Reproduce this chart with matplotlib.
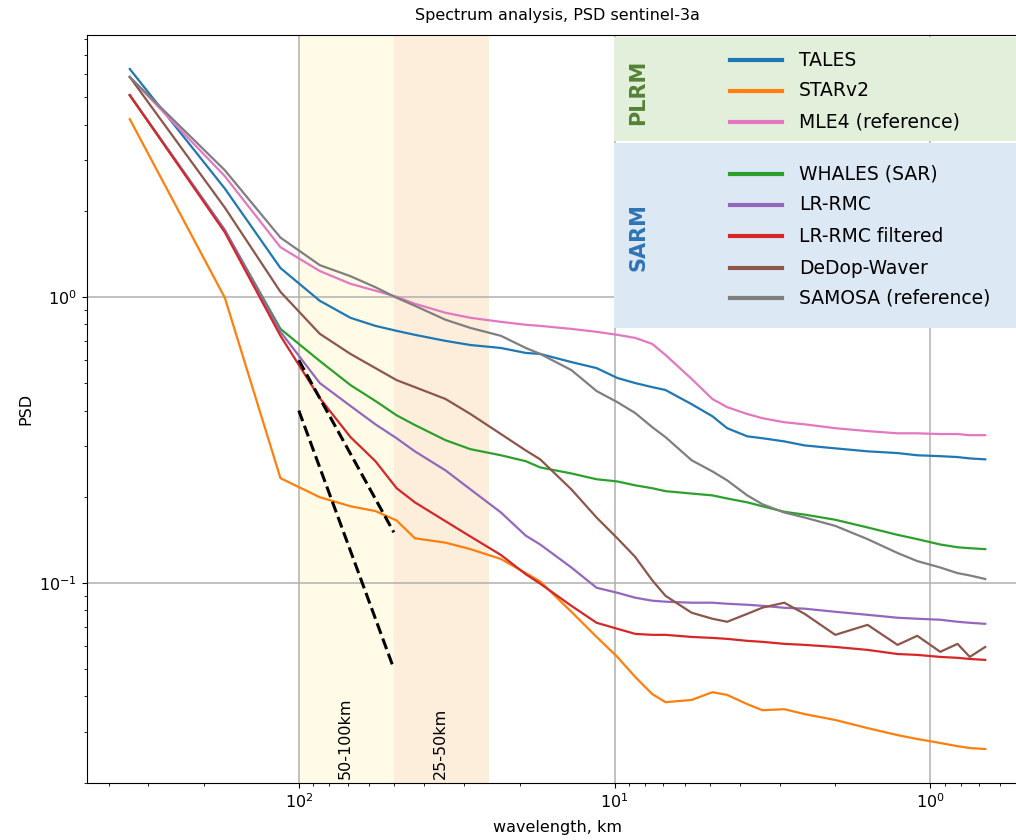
"""
Spectrum analysis (PSD) for sentinel-3a retrackers, redrawn from the figure.
"""

import matplotlib
matplotlib.use("Agg")
import matplotlib.pyplot as plt
from matplotlib.lines import Line2D
from matplotlib.patches import Rectangle

# wavelength (km) of the sampled points
wavelength = [343, 171.5, 114.3, 85.8, 68.6, 57.2, 49.0, 42.9, 34.3, 28.6,
              22.9, 19.1, 17.2, 13.7, 11.4, 9.8, 8.6, 7.6, 6.9, 5.7,
              4.9, 4.4, 3.8, 3.4, 2.9, 2.5, 2.0, 1.58, 1.27, 1.10,
              0.93, 0.82, 0.75, 0.67]

# PSD per retracker
tales = [6.26, 2.39, 1.26, 0.968, 0.844, 0.791, 0.760, 0.736, 0.701, 0.678,
         0.662, 0.636, 0.631, 0.591, 0.563, 0.520, 0.499, 0.483, 0.472, 0.421,
         0.382, 0.347, 0.325, 0.320, 0.312, 0.302, 0.295, 0.288, 0.284, 0.279,
         0.277, 0.275, 0.272, 0.270]
starv2 = [4.18, 0.992, 0.232, 0.199, 0.185, 0.178, 0.165, 0.143, 0.138, 0.131,
          0.121, 0.108, 0.101, 0.0791, 0.0646, 0.0550, 0.0468, 0.0408, 0.0382, 0.0389,
          0.0414, 0.0405, 0.0376, 0.0358, 0.0361, 0.0347, 0.0331, 0.0310, 0.0293, 0.0284,
          0.0275, 0.0268, 0.0264, 0.0262]
mle4 = [5.87, 2.64, 1.49, 1.23, 1.11, 1.05, 1.00, 0.945, 0.879, 0.844,
        0.817, 0.798, 0.791, 0.772, 0.754, 0.736, 0.718, 0.684, 0.626, 0.516,
        0.439, 0.411, 0.389, 0.376, 0.364, 0.358, 0.347, 0.339, 0.333, 0.333,
        0.331, 0.331, 0.328, 0.328]
whales = [5.07, 1.71, 0.772, 0.596, 0.491, 0.432, 0.385, 0.356, 0.315, 0.293,
          0.279, 0.266, 0.253, 0.241, 0.230, 0.226, 0.219, 0.214, 0.209, 0.205,
          0.202, 0.197, 0.191, 0.185, 0.177, 0.173, 0.166, 0.156, 0.147, 0.142,
          0.136, 0.133, 0.132, 0.131]
lr_rmc = [5.07, 1.71, 0.754, 0.499, 0.415, 0.358, 0.320, 0.288, 0.247, 0.212,
          0.176, 0.146, 0.136, 0.113, 0.0960, 0.0922, 0.0886, 0.0865, 0.0858, 0.0851,
          0.0851, 0.0844, 0.0837, 0.0830, 0.0817, 0.0811, 0.0791, 0.0772, 0.0754, 0.0748,
          0.0742, 0.0730, 0.0724, 0.0718]
lr_rmc_filt = [5.07, 1.68, 0.730, 0.442, 0.323, 0.266, 0.214, 0.191, 0.164, 0.145,
               0.125, 0.107, 0.0992, 0.0830, 0.0724, 0.0690, 0.0662, 0.0657, 0.0657, 0.0646,
               0.0641, 0.0636, 0.0626, 0.0621, 0.0611, 0.0606, 0.0596, 0.0582, 0.0563, 0.0559,
               0.0550, 0.0546, 0.0541, 0.0537]
dedop = [5.87, 2.05, 1.04, 0.742, 0.631, 0.563, 0.511, 0.483, 0.439, 0.389,
         0.331, 0.290, 0.270, 0.212, 0.169, 0.143, 0.123, 0.102, 0.090, 0.0785,
         0.0748, 0.0730, 0.0778, 0.0818, 0.0851, 0.0778, 0.0657, 0.0712, 0.0606, 0.0652,
         0.0573, 0.0611, 0.0550, 0.0596]
samosa = [5.87, 2.77, 1.61, 1.29, 1.18, 1.08, 0.992, 0.930, 0.831, 0.778,
          0.730, 0.662, 0.631, 0.554, 0.468, 0.428, 0.392, 0.350, 0.323, 0.268,
          0.245, 0.228, 0.202, 0.188, 0.176, 0.169, 0.158, 0.142, 0.127, 0.119,
          0.113, 0.108, 0.106, 0.103]

# reference slopes (k^-3 and k^-2) between 100 and 50 km
slope_x = [100, 50]
slope_k3 = [0.4, 0.05]
slope_k2 = [0.6, 0.15]

plrm_labels = ["TALES", "STARv2", "MLE4 (reference)"]
plrm_colors = ["#1f77b4", "#ff7f0e", "#e377c2"]
sarm_labels = ["WHALES (SAR)", "LR-RMC", "LR-RMC filtered", "DeDop-Waver", "SAMOSA (reference)"]
sarm_colors = ["#2ca02c", "#9467bd", "#d62728", "#8c564b", "#7f7f7f"]

W, H = 1016, 840


def fx(px):
    return px / W


def fy(py):
    return 1 - py / H


fig = plt.figure(figsize=(W / 100, H / 100), dpi=100)
ax = fig.add_axes([fx(87), fy(783), fx(1028) - fx(87), fy(35) - fy(783)])

ax.axvspan(100, 50, color="#fffbe6", zorder=0, lw=0)
ax.axvspan(50, 25, color="#fdeedc", zorder=0, lw=0)

series = [tales, starv2, mle4, whales, lr_rmc, lr_rmc_filt, dedop, samosa]
colors = plrm_colors + sarm_colors
for values, color in zip(series, colors):
    ax.plot(wavelength, values, color=color, lw=1.6, zorder=3)

ax.plot(slope_x, slope_k3, "k--", lw=2.2, zorder=4)
ax.plot(slope_x, slope_k2, "k--", lw=2.2, zorder=4)

ax.set_xscale("log")
ax.set_yscale("log")
ax.invert_xaxis()
ax.grid(True, which="major", color="#b0b0b0", lw=1.1, zorder=1)
ax.set_axisbelow(True)

ax.text(75, 0.0205, "50-100km", rotation=90, va="bottom", fontsize=11.5)
ax.text(37.5, 0.0205, "25-50km", rotation=90, va="bottom", fontsize=11.5)

ax.set_title("Spectrum analysis, PSD sentinel-3a", fontsize=11.5, pad=11)
ax.set_xlabel("wavelength, km", fontsize=11.5, labelpad=6)
ax.set_ylabel("PSD", fontsize=11.5)
ax.tick_params(labelsize=11.5)

# legend drawn by hand: two coloured groups
fig.add_artist(Rectangle((fx(614), fy(141)), fx(1016) - fx(614), fy(37) - fy(141),
                         transform=fig.transFigure, color="#e2efda", lw=0, zorder=5))
fig.add_artist(Rectangle((fx(614), fy(328)), fx(1016) - fx(614), fy(143) - fy(328),
                         transform=fig.transFigure, color="#dde8f5", lw=0, zorder=5))
fig.text(fx(638), fy(92), "PLRM", rotation=90, ha="center", va="center",
         fontsize=15, fontweight="bold", color="#548235", zorder=6)
fig.text(fx(638), fy(237), "SARM", rotation=90, ha="center", va="center",
         fontsize=15, fontweight="bold", color="#2e75b6", zorder=6)

rows_y = [60, 91, 122, 174, 205, 236, 268, 298]
for label, color, py in zip(plrm_labels + sarm_labels, colors, rows_y):
    fig.add_artist(Line2D([fx(730), fx(782)], [fy(py), fy(py)], transform=fig.transFigure,
                          color=color, lw=3, zorder=6))
    fig.text(fx(799), fy(py), label, va="center", fontsize=13.5, zorder=6)

fig.savefig("out.png", dpi=100)
